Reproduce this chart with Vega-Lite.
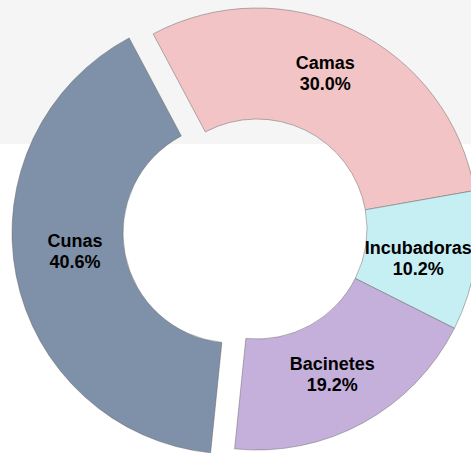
{
  "$schema": "https://vega.github.io/schema/vega-lite/v6.json",
  "width": 471,
  "height": 453,
  "autosize": {"type": "none"},
  "padding": 0,
  "background": "white",
  "view": {
    "stroke": null,
    "fill": {
      "gradient": "linear",
      "x1": 0, "y1": 0, "x2": 0, "y2": 1,
      "stops": [
        {"offset": 0, "color": "#f5f5f5"},
        {"offset": 0.318, "color": "#f5f5f5"},
        {"offset": 0.319, "color": "#ffffff"},
        {"offset": 1, "color": "#ffffff"}
      ]
    }
  },
  "data": {
    "values": [
      {"order": 1, "cat": "Camas", "value": 0.300},
      {"order": 2, "cat": "Incubadoras", "value": 0.102},
      {"order": 3, "cat": "Bacinetes", "value": 0.192},
      {"order": 4, "cat": "Cunas", "value": 0.406}
    ]
  },
  "transform": [
    {"stack": "value", "groupby": [], "sort": [{"field": "order", "order": "ascending"}], "as": ["t0", "t1"]}
  ],
  "layer": [
    {
      "transform": [{"filter": "datum.cat !== 'Cunas'"}],
      "mark": {"type": "arc", "radius": 221, "radius2": 110, "xOffset": 21.5, "yOffset": 2.5, "stroke": "#5e5e5e", "strokeOpacity": 0.45, "strokeWidth": 1},
      "encoding": {
        "theta": {"field": "t0", "type": "quantitative", "scale": {"domain": [0, 1], "range": [-0.489, 5.794]}},
        "theta2": {"field": "t1"},
        "color": {"field": "cat", "type": "nominal", "legend": null,
          "scale": {"domain": ["Camas", "Incubadoras", "Bacinetes", "Cunas"], "range": ["#f3c4c5", "#c6eff4", "#c5b0dc", "#7f91a8"]}}
      }
    },
    {
      "transform": [{"filter": "datum.cat === 'Cunas'"}],
      "mark": {"type": "arc", "radius": 221, "radius2": 110, "xOffset": -2.5, "yOffset": 6.5, "stroke": "#5e5e5e", "strokeOpacity": 0.45, "strokeWidth": 1},
      "encoding": {
        "theta": {"field": "t0", "type": "quantitative"},
        "theta2": {"field": "t1"},
        "color": {"field": "cat", "type": "nominal", "legend": null}
      }
    },
    {
      "mark": {"type": "text", "radius": 165, "xOffset": 17.5, "yOffset": -3.5, "dy": -10.5, "font": "Liberation Sans", "fontWeight": "bold", "fontSize": 18, "color": "#000000"},
      "encoding": {
        "theta": {"field": "value", "type": "quantitative", "stack": true},
        "order": {"field": "order", "type": "quantitative"},
        "text": {"condition": {"test": "datum.cat !== 'Camas'", "value": ""}, "field": "cat", "type": "nominal"}
      }
    },
    {
      "mark": {"type": "text", "radius": 165, "xOffset": 17.5, "yOffset": -3.5, "dy": 10.5, "font": "Liberation Sans", "fontWeight": "bold", "fontSize": 18, "color": "#000000"},
      "encoding": {
        "theta": {"field": "value", "type": "quantitative", "stack": true},
        "order": {"field": "order", "type": "quantitative"},
        "text": {"condition": {"test": "datum.cat !== 'Camas'", "value": ""}, "field": "value", "type": "quantitative", "format": ".1%"}
      }
    },
    {
      "mark": {"type": "text", "radius": 165, "xOffset": 19.5, "yOffset": 9, "dy": -10.5, "font": "Liberation Sans", "fontWeight": "bold", "fontSize": 18, "color": "#000000"},
      "encoding": {
        "theta": {"field": "value", "type": "quantitative", "stack": true},
        "order": {"field": "order", "type": "quantitative"},
        "text": {"condition": {"test": "datum.cat !== 'Incubadoras'", "value": ""}, "field": "cat", "type": "nominal"}
      }
    },
    {
      "mark": {"type": "text", "radius": 165, "xOffset": 19.5, "yOffset": 9, "dy": 10.5, "font": "Liberation Sans", "fontWeight": "bold", "fontSize": 18, "color": "#000000"},
      "encoding": {
        "theta": {"field": "value", "type": "quantitative", "stack": true},
        "order": {"field": "order", "type": "quantitative"},
        "text": {"condition": {"test": "datum.cat !== 'Incubadoras'", "value": ""}, "field": "value", "type": "quantitative", "format": ".1%"}
      }
    },
    {
      "mark": {"type": "text", "radius": 165, "xOffset": 17.5, "yOffset": 4.5, "dy": -10.5, "font": "Liberation Sans", "fontWeight": "bold", "fontSize": 18, "color": "#000000"},
      "encoding": {
        "theta": {"field": "value", "type": "quantitative", "stack": true},
        "order": {"field": "order", "type": "quantitative"},
        "text": {"condition": {"test": "datum.cat !== 'Bacinetes'", "value": ""}, "field": "cat", "type": "nominal"}
      }
    },
    {
      "mark": {"type": "text", "radius": 165, "xOffset": 17.5, "yOffset": 4.5, "dy": 10.5, "font": "Liberation Sans", "fontWeight": "bold", "fontSize": 18, "color": "#000000"},
      "encoding": {
        "theta": {"field": "value", "type": "quantitative", "stack": true},
        "order": {"field": "order", "type": "quantitative"},
        "text": {"condition": {"test": "datum.cat !== 'Bacinetes'", "value": ""}, "field": "value", "type": "quantitative", "format": ".1%"}
      }
    },
    {
      "mark": {"type": "text", "radius": 162, "xOffset": -1.5, "yOffset": -5.5, "dy": -10.5, "font": "Liberation Sans", "fontWeight": "bold", "fontSize": 18, "color": "#000000"},
      "encoding": {
        "theta": {"field": "value", "type": "quantitative", "stack": true},
        "order": {"field": "order", "type": "quantitative"},
        "text": {"condition": {"test": "datum.cat !== 'Cunas'", "value": ""}, "field": "cat", "type": "nominal"}
      }
    },
    {
      "mark": {"type": "text", "radius": 162, "xOffset": -1.5, "yOffset": -5.5, "dy": 10.5, "font": "Liberation Sans", "fontWeight": "bold", "fontSize": 18, "color": "#000000"},
      "encoding": {
        "theta": {"field": "value", "type": "quantitative", "stack": true},
        "order": {"field": "order", "type": "quantitative"},
        "text": {"condition": {"test": "datum.cat !== 'Cunas'", "value": ""}, "field": "value", "type": "quantitative", "format": ".1%"}
      }
    }
  ]
}
